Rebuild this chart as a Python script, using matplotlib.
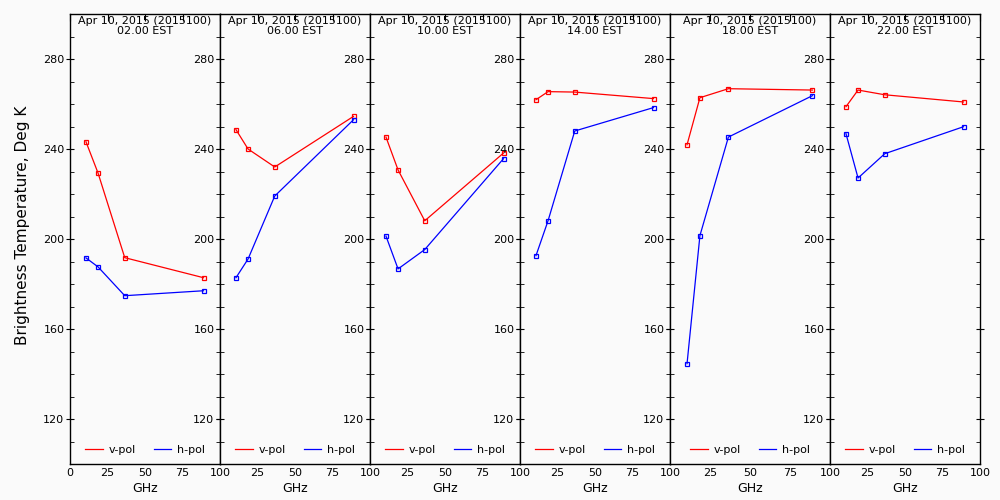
import matplotlib.pyplot as plt
from matplotlib.ticker import MultipleLocator

plt.rcParams.update({
    "font.family": "DejaVu Sans",
    "figure.facecolor": "#fafafa",
    "axes.facecolor": "#fafafa",
    "axes.linewidth": 1.0,
})

freqs = [10.65, 18.7, 36.5, 89.0]
times = ["02.00 EST", "06.00 EST", "10.00 EST", "14.00 EST", "18.00 EST", "22.00 EST"]
date_label = "Apr 10, 2015 (2015100)"

vpol = [
    [243.2, 229.3, 191.7, 182.8],
    [248.6, 240.0, 232.0, 254.5],
    [245.3, 230.7, 208.1, 238.2],
    [261.9, 265.5, 265.3, 262.4],
    [241.9, 262.8, 266.8, 266.2],
    [258.8, 266.2, 264.1, 260.9],
]
hpol = [
    [191.6, 187.6, 174.8, 177.0],
    [182.8, 191.1, 219.1, 253.0],
    [201.3, 186.7, 195.3, 235.7],
    [192.6, 208.1, 248.0, 258.4],
    [144.6, 201.5, 245.3, 263.7],
    [246.8, 227.1, 237.9, 249.9],
]

# panel edges in pixels (figure is 1000 x 500)
edges = [70, 220, 370, 520, 670, 830, 980]
bottom_px, top_px = 464, 14

fig = plt.figure(figsize=(10, 5), dpi=100)

for i in range(6):
    left = edges[i] / 1000
    width = (edges[i + 1] - edges[i]) / 1000
    ax = fig.add_axes([left, (500 - bottom_px) / 500, width, (bottom_px - top_px) / 500])

    ax.plot(freqs, vpol[i], color="red", lw=0.9, marker="s", ms=3.5,
            mfc="none", mec="red", mew=0.9, label="v-pol")
    ax.plot(freqs, hpol[i], color="blue", lw=0.9, marker="s", ms=3.5,
            mfc="none", mec="blue", mew=0.9, label="h-pol")

    ax.set_xlim(0, 100)
    ax.set_ylim(100, 300)

    ax.set_yticks([120, 160, 200, 240, 280])
    ax.yaxis.set_minor_locator(MultipleLocator(10))
    ax.tick_params(axis="y", which="major", direction="inout", length=6,
                   left=True, right=True, labelsize=8, pad=1)
    ax.tick_params(axis="y", which="minor", direction="in", length=3,
                   left=True, right=True)

    if i == 0:
        ax.set_xticks([0, 25, 50, 75, 100])
    else:
        ax.set_xticks([25, 50, 75, 100])
    ax.tick_params(axis="x", which="major", direction="in", length=5,
                   bottom=False, top=True, labelbottom=True, labelsize=8, pad=3)

    ax.set_xlabel("GHz", fontsize=9, labelpad=3)

    ax.text(0.5, 0.995, date_label + "\n" + times[i], transform=ax.transAxes,
            ha="center", va="top", fontsize=8, linespacing=0.95)

    ax.legend(loc="lower center", ncol=2, frameon=False, fontsize=8,
              handlelength=1.6, handletextpad=0.5, columnspacing=1.6,
              borderaxespad=0.4)
    for h in ax.get_legend().legend_handles:
        h.set_marker("")

    if i == 0:
        ax.set_ylabel("Brightness Temperature, Deg K", fontsize=11)
        ax.yaxis.set_label_coords(-0.267, 0.53)

fig.savefig("out.png", dpi=100)
